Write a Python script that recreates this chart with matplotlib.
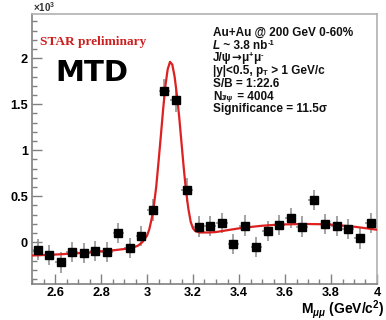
"""STAR MTD J/psi -> mu+mu- invariant-mass peak, Au+Au 200 GeV (recreated)."""
import matplotlib
matplotlib.use("Agg")
import matplotlib.pyplot as plt
from matplotlib.ticker import MultipleLocator

RED, BLACK = "#dd2020", "#000000"
FRAME, FRAME_LIGHT, ERR = "#808080", "#b0b0b0", "#8a8a8a"

# data points (x10^3 counts per 50 MeV bin)
mass = [2.525, 2.575, 2.625, 2.675, 2.725, 2.775, 2.825, 2.875, 2.925, 2.975,
        3.025, 3.075, 3.125, 3.175, 3.225, 3.275, 3.325, 3.375, 3.425, 3.475,
        3.525, 3.575, 3.625, 3.675, 3.725, 3.775, 3.825, 3.875, 3.925, 3.975]
counts = [-0.08, -0.14, -0.22, -0.11, -0.12, -0.095, -0.105, 0.10, -0.06, 0.065,
          0.35, 1.645, 1.55, 0.565, 0.17, 0.174, 0.21, -0.02, 0.18, -0.05,
          0.12, 0.185, 0.26, 0.17, 0.46, 0.195, 0.174, 0.14, 0.04, 0.21]
err = [0.11, 0.11, 0.11, 0.11, 0.11, 0.11, 0.11, 0.11, 0.11, 0.11,
       0.12, 0.13, 0.13, 0.13, 0.11, 0.11, 0.11, 0.11, 0.11, 0.11,
       0.11, 0.11, 0.11, 0.11, 0.11, 0.11, 0.11, 0.11, 0.11, 0.11]
half_bin = 0.025

# fit curve
fit_x = [2.50, 2.55, 2.60, 2.65, 2.70, 2.75, 2.80, 2.85, 2.90, 2.93, 2.96,
         2.98, 3.00, 3.01, 3.02, 3.03, 3.04, 3.05, 3.06, 3.07, 3.08, 3.09,
         3.10, 3.11, 3.12, 3.13, 3.14, 3.15, 3.16, 3.17, 3.18, 3.19, 3.20,
         3.21, 3.23, 3.27, 3.30, 3.35, 3.40, 3.45, 3.50, 3.55, 3.60, 3.65,
         3.70, 3.75, 3.80, 3.85, 3.90, 3.95, 4.00]
fit_y = [-0.145, -0.14, -0.135, -0.128, -0.12, -0.112, -0.10, -0.09, -0.075,
         -0.065, -0.04, 0.00, 0.07, 0.14, 0.25, 0.40, 0.60, 0.87, 1.15, 1.44,
         1.70, 1.88, 1.96, 1.93, 1.80, 1.60, 1.36, 1.08, 0.80, 0.55, 0.36,
         0.22, 0.15, 0.12, 0.105, 0.105, 0.11, 0.13, 0.15, 0.165, 0.178,
         0.187, 0.193, 0.196, 0.197, 0.195, 0.19, 0.18, 0.168, 0.152, 0.135]

# info block: each line is a list of (text, kind); kind n/i/a/sup/sub
info_lines = [
    [("Au+Au @ 200 GeV 0-60%", "n")],
    [("L", "i"), (" ~ 3.8 nb", "n"), ("-1", "sup")],
    [("J/ψ", "n"), ("→", "a"), ("μ", "n"), ("+", "sup"), ("μ", "n"),
     ("-", "sup")],
    [("|y|<0.5, p", "n"), ("T", "sub"), (" > 1 GeV/c", "n")],
    [("S/B = 1:22.6", "n")],
    [("N", "n"), ("J/ψ", "sub"), (" = 4004", "n")],
    [("Significance = 11.5σ", "n")],
]

plt.rcParams["font.family"] = ["Liberation Sans", "DejaVu Sans"]
plt.rcParams["font.weight"] = "bold"
plt.rcParams["mathtext.fontset"] = "custom"
plt.rcParams["mathtext.rm"] = "Liberation Sans:bold"
plt.rcParams["mathtext.it"] = "Liberation Sans:italic:bold"
plt.rcParams["mathtext.bf"] = "Liberation Sans:bold"

W, H = 386, 320
fig = plt.figure(figsize=(W / 100, H / 100), dpi=100)
ax = fig.add_axes([32 / W, 1 - 284 / H, 345 / W, 270 / H])

ax.errorbar(mass, counts, yerr=err, xerr=half_bin, fmt="none",
            ecolor=ERR, elinewidth=1.1, capsize=0, zorder=2)
ax.plot(fit_x, fit_y, color=RED, lw=1.6, zorder=3)
ax.plot(mass, counts, "s", color=BLACK, ms=5.3, zorder=4)

ax.set_xlim(2.5, 4.0)
ax.set_ylim(-0.455, 2.48)
ax.xaxis.set_major_locator(MultipleLocator(0.2))
ax.xaxis.set_minor_locator(MultipleLocator(0.05))
ax.yaxis.set_major_locator(MultipleLocator(0.5))
ax.yaxis.set_minor_locator(MultipleLocator(0.1))
ax.xaxis.set_major_formatter(lambda v, p: f"{v:g}")
ax.yaxis.set_major_formatter(lambda v, p: f"{v:g}")
ax.tick_params(which="both", direction="in", colors=FRAME, labelcolor=BLACK,
               labelsize=9.2, top=False, right=False)
ax.tick_params(which="major", length=7, width=1)
ax.tick_params(which="minor", length=3.5, width=1)
ax.tick_params(axis="x", pad=2.5)
ax.tick_params(axis="y", pad=3)
for lab in ax.get_xticklabels() + ax.get_yticklabels():
    lab.set_fontweight("bold")
for side in ("left", "bottom"):
    ax.spines[side].set_color(FRAME)
    ax.spines[side].set_linewidth(1.2)
for side in ("top", "right"):
    ax.spines[side].set_color(FRAME_LIGHT)
    ax.spines[side].set_linewidth(1.2)

fig.text(33 / W, 1 - 12 / H, "×10$^{3}$", fontsize=7, color="#333333")
fig.text(40 / W, 1 - 42 / H, "STAR preliminary", color="#cc2020",
         family="Liberation Serif", fontweight="bold", fontsize=9.6,
         va="center")
fig.text(55 / W, 1 - 73 / H, "MTD", family="DejaVu Sans", fontweight="bold",
         fontsize=21, va="center")


def rich_line(x, y, parts, fs=8.5, color="#111111"):
    """Line of text with small raised/lowered pieces kept inside its box."""
    main = prev = None
    for txt, kind in parts:
        style = "italic" if kind == "i" else "normal"
        size = fs * 0.65 if kind in ("sup", "sub") else fs
        family = ["DejaVu Sans"] if kind == "a" else None
        if main is None:
            main = prev = fig.text(x, y, txt, fontsize=size, va="center",
                                   style=style, color=color)
            continue
        if kind == "sup":
            xy, va = (1, 1), "top"
        else:
            xy, va = (1, 0), "bottom"
        prev = ax.annotate(txt, xy=xy, xycoords=(prev, main), va=va,
                           ha="left", fontsize=size, style=style,
                           family=family, color=color,
                           annotation_clip=False)


for i, parts in enumerate(info_lines):
    rich_line(213 / W, 1 - (33 + 12.7 * i) / H, parts)

fig.text(384 / W, 1 - 310 / H, "M$_{\\mu\\mu}$ (GeV/c$^{2}$)", fontsize=10,
         ha="right", va="center")

fig.savefig("out.png", dpi=100)
